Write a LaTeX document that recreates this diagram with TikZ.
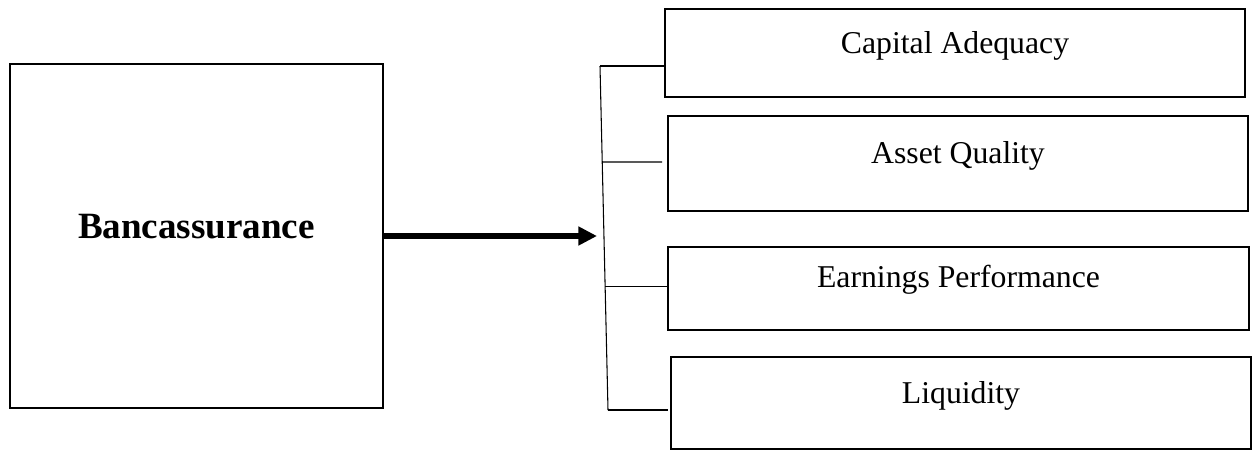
\documentclass[tikz,border=0pt]{standalone}
\usepackage{fontspec}
\setmainfont{Liberation Serif}
\usetikzlibrary{arrows.meta,calc}
\tikzset{
  box/.style={draw, line width=1.5pt, rectangle, inner sep=0pt},
  itemtext/.style={anchor=base, inner sep=0pt, font=\fontsize{23.8}{28}\selectfont},
  headtext/.style={anchor=base, inner sep=0pt, font=\fontsize{27.8}{32}\selectfont\bfseries},
  branch/.style={line width=0.8pt},
  mainarrow/.style={line width=4.5pt, -{Triangle[length=14pt,width=13.5pt]}}
}
\begin{document}
\begin{tikzpicture}[x=0.75pt, y=-0.75pt]
  \useasboundingbox (0,0) rectangle (1254,454);

  % source box
  \node[box, minimum width=279.75pt, minimum height=258pt] (src) at (196.5,236) {};
  \node[headtext] (srclabel) at (196.5,238) {Bancassurance};

  % target boxes
  \node[box, minimum width=435pt, minimum height=66pt] (b1) at (955,53) {};
  \node[box, minimum width=435pt, minimum height=71.25pt] (b2) at (958,163.5) {};
  \node[box, minimum width=435.75pt, minimum height=62.25pt] (b3) at (958.5,288.5) {};
  \node[box, minimum width=435pt, minimum height=69pt] (b4) at (961,403) {};

  \node[itemtext] (t1) at (955,53) {Capital Adequacy};
  \node[itemtext] (t2) at (958,163) {Asset Quality};
  \node[itemtext] (t3) at (958.5,287) {Earnings Performance};
  \node[itemtext] (t4) at (961,403) {Liquidity};

  % main arrow into the bracket
  \coordinate (tip) at (597,236);
  \draw[mainarrow] (src.east |- tip) -- (tip);

  % bracket spine
  \coordinate (vtop) at (600,66);
  \coordinate (vbot) at (608,410);
  \draw[branch] (vtop) -- (vbot);

  % branches
  \coordinate (p2) at ($(vtop)!0.279!(vbot)$);
  \coordinate (p3) at ($(vtop)!0.642!(vbot)$);
  \coordinate (e2) at (662,162);
  \coordinate (e4) at (668,410);
  \draw[branch] (vtop) -- (vtop -| b1.west);
  \draw[branch] (p2) -- (e2);
  \draw[branch] (p3) -- (p3 -| b3.west);
  \draw[branch] (vbot) -- (e4);
\end{tikzpicture}
\end{document}
